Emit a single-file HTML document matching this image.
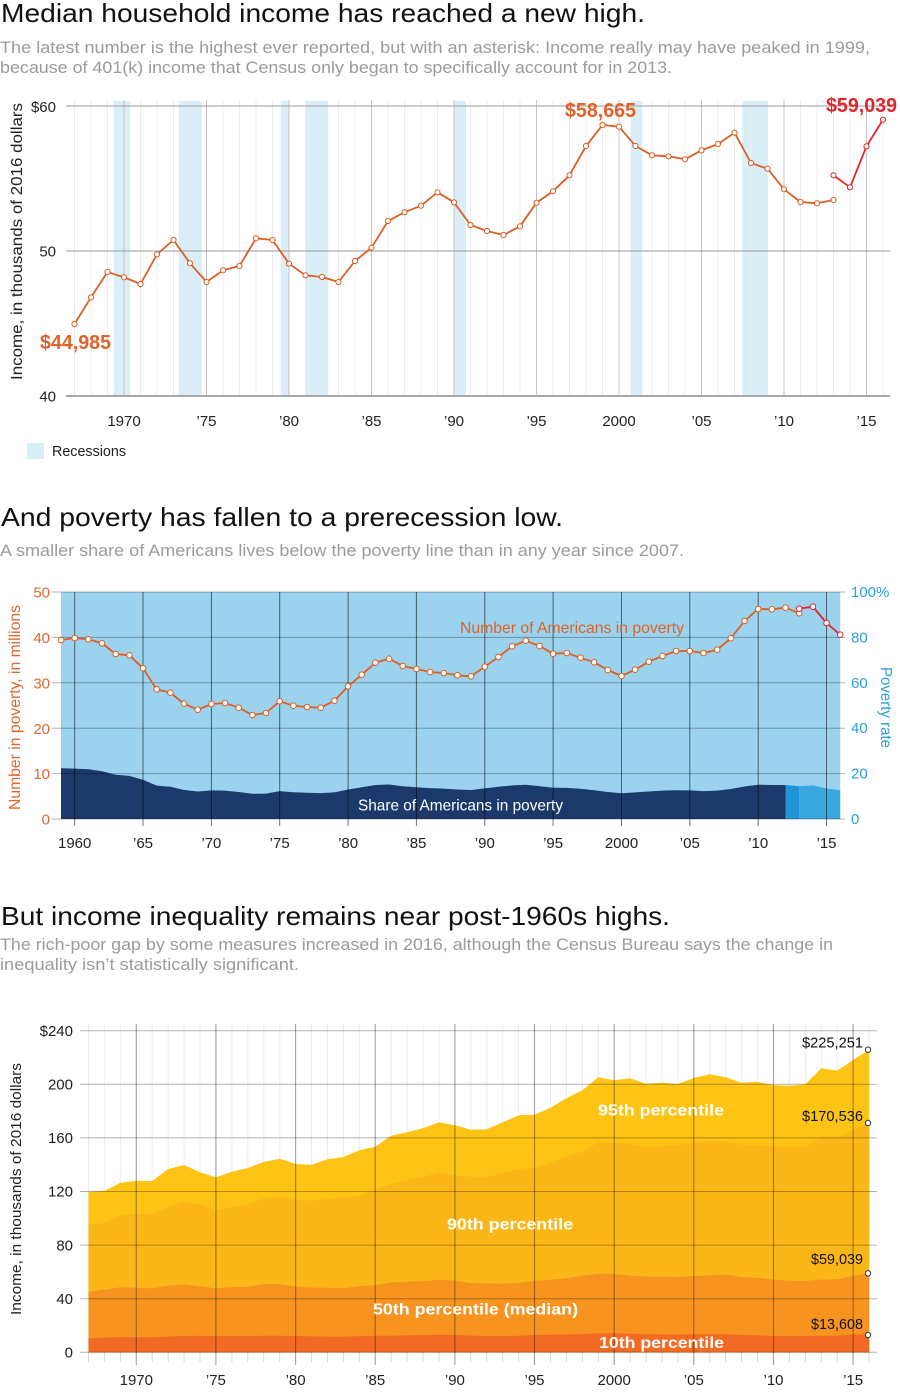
<!DOCTYPE html>
<html><head><meta charset="utf-8"><style>html,body{margin:0;padding:0;background:#fff;}svg{display:block;}</style></head><body>
<svg width="900" height="1395" viewBox="0 0 900 1395" xmlns="http://www.w3.org/2000/svg" font-family="'Liberation Sans', sans-serif">
<rect width="900" height="1395" fill="#fff"/>

<!-- ============ CHART 1 ============ -->
<text x="1" y="22" font-size="26" fill="#111" textLength="644" lengthAdjust="spacingAndGlyphs">Median household income has reached a new high.</text>
<text x="0" y="53" font-size="16.5" fill="#9b9b9b" textLength="870" lengthAdjust="spacingAndGlyphs">The latest number is the highest ever reported, but with an asterisk: Income really may have peaked in 1999,</text>
<text x="0" y="73" font-size="16.5" fill="#9b9b9b" textLength="672" lengthAdjust="spacingAndGlyphs">because of 401(k) income that Census only began to specifically account for in 2013.</text>

<!-- recession bands -->
<g fill="#daeef8">
<rect x="113.7" y="101" width="16.3" height="295"/>
<rect x="178.7" y="101" width="23" height="295"/>
<rect x="280.7" y="101" width="8.6" height="295"/>
<rect x="305.3" y="101" width="23" height="295"/>
<rect x="454.5" y="101" width="11.5" height="295"/>
<rect x="630.7" y="101" width="11.6" height="295"/>
<rect x="742.3" y="101" width="25.4" height="295"/>
</g>
<!-- minor grid -->
<path stroke="#ececec" stroke-width="1" fill="none" d="M74.5 100V396M91 100V396M107.5 100V396M140.5 100V396M157 100V396M173.5 100V396M190 100V396M223 100V396M239.5 100V396M256 100V396M272.5 100V396M305.5 100V396M322 100V396M338.5 100V396M355 100V396M388 100V396M404.5 100V396M421 100V396M437.5 100V396M470.5 100V396M487 100V396M503.5 100V396M520 100V396M553 100V396M569.5 100V396M586 100V396M602.5 100V396M635.5 100V396M652 100V396M668.5 100V396M685 100V396M718 100V396M734.5 100V396M751 100V396M767.5 100V396M800.5 100V396M817 100V396M833.5 100V396M850 100V396M883 100V396"/>
<!-- major grid -->
<path stroke="#c4c4c4" stroke-width="1" fill="none" d="M124 100V396M206.5 100V396M289 100V396M371.5 100V396M454 100V396M536.5 100V396M619 100V396M701.5 100V396M784 100V396M866.5 100V396"/>
<path stroke="#9a9a9a" stroke-width="1" fill="none" d="M66 106H890M66 251H890"/>
<path stroke="#a8a8a8" stroke-width="2" fill="none" d="M66 396H890"/>

<g font-size="15" fill="#222" text-anchor="end">
<text x="56" y="112">$60</text>
<text x="56" y="256.5">50</text>
<text x="56" y="401.5">40</text>
</g>
<g font-size="15" fill="#222" text-anchor="middle">
<text x="124" y="426">1970</text>
<text x="206.5" y="426">’75</text>
<text x="289" y="426">’80</text>
<text x="371.5" y="426">’85</text>
<text x="454" y="426">’90</text>
<text x="536.5" y="426">’95</text>
<text x="619" y="426">2000</text>
<text x="701.5" y="426">’05</text>
<text x="784" y="426">’10</text>
<text x="866.5" y="426">’15</text>
</g>
<text transform="translate(22,380) rotate(-90)" font-size="15.5" fill="#222" textLength="277" lengthAdjust="spacingAndGlyphs">Income, in thousands of 2016 dollars</text>

<polyline fill="none" stroke="#dc5f26" stroke-width="1.8" stroke-linejoin="round" points="74.5,324 91,297.3 107.5,272 124,277.3 140.5,284 157,254.3 173.5,240 190,263.3 206.5,282 223,270.3 239.5,266 256,238.3 272.5,240 289,263.7 305.5,275.3 322,277 338.5,282 355,261 371.5,247.7 388,221 404.5,212.3 421,205.7 437.5,192.3 454,202.3 470.5,225 487,231 503.5,235 520,226.3 536.5,202.7 553,191.3 569.5,175.3 586,146 602.5,125 619,126.7 635.5,146 652,155.3 668.5,156.3 685,159.3 701.5,150.3 718,144 734.5,132.7 751,163 767.5,168.7 784,189.3 800.5,202 817,203.3 833.5,200"/>
<polyline fill="none" stroke="#e3242b" stroke-width="1.8" stroke-linejoin="round" points="833.5,175.3 850,187.3 866.5,146.3 883,119.7"/>
<g fill="#fff" stroke="#dc5f26" stroke-width="1">
<circle cx="74.5" cy="324" r="2.6"/><circle cx="91" cy="297.3" r="2.6"/><circle cx="107.5" cy="272" r="2.6"/><circle cx="124" cy="277.3" r="2.6"/><circle cx="140.5" cy="284" r="2.6"/><circle cx="157" cy="254.3" r="2.6"/><circle cx="173.5" cy="240" r="2.6"/><circle cx="190" cy="263.3" r="2.6"/><circle cx="206.5" cy="282" r="2.6"/><circle cx="223" cy="270.3" r="2.6"/><circle cx="239.5" cy="266" r="2.6"/><circle cx="256" cy="238.3" r="2.6"/><circle cx="272.5" cy="240" r="2.6"/><circle cx="289" cy="263.7" r="2.6"/><circle cx="305.5" cy="275.3" r="2.6"/><circle cx="322" cy="277" r="2.6"/><circle cx="338.5" cy="282" r="2.6"/><circle cx="355" cy="261" r="2.6"/><circle cx="371.5" cy="247.7" r="2.6"/><circle cx="388" cy="221" r="2.6"/><circle cx="404.5" cy="212.3" r="2.6"/><circle cx="421" cy="205.7" r="2.6"/><circle cx="437.5" cy="192.3" r="2.6"/><circle cx="454" cy="202.3" r="2.6"/><circle cx="470.5" cy="225" r="2.6"/><circle cx="487" cy="231" r="2.6"/><circle cx="503.5" cy="235" r="2.6"/><circle cx="520" cy="226.3" r="2.6"/><circle cx="536.5" cy="202.7" r="2.6"/><circle cx="553" cy="191.3" r="2.6"/><circle cx="569.5" cy="175.3" r="2.6"/><circle cx="586" cy="146" r="2.6"/><circle cx="602.5" cy="125" r="2.6"/><circle cx="619" cy="126.7" r="2.6"/><circle cx="635.5" cy="146" r="2.6"/><circle cx="652" cy="155.3" r="2.6"/><circle cx="668.5" cy="156.3" r="2.6"/><circle cx="685" cy="159.3" r="2.6"/><circle cx="701.5" cy="150.3" r="2.6"/><circle cx="718" cy="144" r="2.6"/><circle cx="734.5" cy="132.7" r="2.6"/><circle cx="751" cy="163" r="2.6"/><circle cx="767.5" cy="168.7" r="2.6"/><circle cx="784" cy="189.3" r="2.6"/><circle cx="800.5" cy="202" r="2.6"/><circle cx="817" cy="203.3" r="2.6"/><circle cx="833.5" cy="200" r="2.6"/>
</g>
<g fill="#fff" stroke="#e3242b" stroke-width="1">
<circle cx="833.5" cy="175.3" r="2.6"/><circle cx="850" cy="187.3" r="2.6"/><circle cx="866.5" cy="146.3" r="2.6"/><circle cx="883" cy="119.7" r="2.6"/>
</g>
<text x="40" y="349" font-size="20" font-weight="bold" fill="#e0622a" textLength="71" lengthAdjust="spacingAndGlyphs">$44,985</text>
<text x="565" y="117" font-size="20" font-weight="bold" fill="#e0622a" textLength="71" lengthAdjust="spacingAndGlyphs">$58,665</text>
<text x="826" y="112" font-size="20" font-weight="bold" fill="#e3242b" textLength="71" lengthAdjust="spacingAndGlyphs">$59,039</text>

<rect x="27" y="443" width="17" height="16" fill="#daeef8"/>
<text x="52" y="456" font-size="15" fill="#222" textLength="74" lengthAdjust="spacingAndGlyphs">Recessions</text>

<!-- ============ CHART 2 ============ -->
<text x="1" y="526" font-size="26" fill="#111" textLength="562" lengthAdjust="spacingAndGlyphs">And poverty has fallen to a prerecession low.</text>
<text x="0" y="556" font-size="16.5" fill="#9b9b9b" textLength="684" lengthAdjust="spacingAndGlyphs">A smaller share of Americans lives below the poverty line than in any year since 2007.</text>

<rect x="61" y="592" width="779.2" height="227" fill="#9bd3ee"/>
<polygon fill="#1b3a6b" points="61,768.2 74.7,768.6 88.3,769.3 102,771.3 115.7,774.7 129.4,775.9 143,779.7 156.7,785.6 170.4,786.8 184,790 197.7,791.5 211.4,790.4 225,790.6 238.7,792 252.4,793.8 266,793.6 279.7,791.1 293.4,792.2 307.1,792.7 320.7,793.1 334.4,792.4 348.1,789.5 361.7,787.2 375.4,785 389.1,784.5 402.8,786.3 416.4,787.2 430.1,788.1 443.8,788.6 457.4,789.5 471.1,790 484.8,788.4 498.4,786.8 512.1,785.4 525.8,784.7 539.5,786.1 553.1,787.7 566.8,787.9 580.5,788.8 594.1,790.2 607.8,792 621.5,793.3 635.1,792.4 648.8,791.5 662.5,790.6 676.2,790.2 689.8,790.4 703.5,791.1 717.2,790.6 730.8,789 744.5,786.5 758.2,784.7 771.8,784.95 785.5,784.95 785.5,819 61,819"/>
<polygon fill="#2196d6" points="785.5,784.95 799.2,786.1 799.2,819 785.5,819"/>
<polygon fill="#3aa7df" points="799.2,786.1 812.9,785.4 826.5,788.4 840.2,790.2 840.2,819 799.2,819"/>
<path stroke="#000" stroke-opacity="0.3" stroke-width="1" fill="none" d="M52 592H845M52 637.4H845M52 682.8H845M52 728.2H845M52 773.6H845M52 819H845"/>
<path stroke="#000" stroke-opacity="0.55" stroke-width="1" fill="none" d="M74.7 592V826M143 592V826M211.4 592V826M279.7 592V826M348.1 592V826M416.4 592V826M484.8 592V826M553.1 592V826M621.5 592V826M689.8 592V826M758.2 592V826M826.5 592V826"/>

<g font-size="15" fill="#e2672e" text-anchor="end">
<text x="50" y="597.5">50</text><text x="50" y="643">40</text><text x="50" y="688.4">30</text><text x="50" y="733.8">20</text><text x="50" y="779.1">10</text><text x="50" y="824.5">0</text>
</g>
<g font-size="15" fill="#2aa0dc">
<text x="851" y="597">100%</text><text x="851" y="642.4">80</text><text x="851" y="687.8">60</text><text x="851" y="733.2">40</text><text x="851" y="778.6">20</text><text x="851" y="824">0</text>
</g>
<text transform="translate(20,810) rotate(-90)" font-size="15.5" fill="#e2672e" textLength="205" lengthAdjust="spacingAndGlyphs">Number in poverty, in millions</text>
<text transform="translate(881,667) rotate(90)" font-size="15.5" fill="#2aa0dc" textLength="81" lengthAdjust="spacingAndGlyphs">Poverty rate</text>
<g font-size="15" fill="#222" text-anchor="middle">
<text x="74.7" y="848">1960</text><text x="143" y="848">’65</text><text x="211.4" y="848">’70</text><text x="279.7" y="848">’75</text><text x="348.1" y="848">’80</text><text x="416.4" y="848">’85</text><text x="484.8" y="848">’90</text><text x="553.1" y="848">’95</text><text x="621.5" y="848">2000</text><text x="689.8" y="848">’05</text><text x="758.2" y="848">’10</text><text x="826.5" y="848">’15</text>
</g>

<polyline fill="none" stroke="#dc5f26" stroke-width="1.8" stroke-linejoin="round" points="61,640 74.7,638 88.3,639.3 102,643.3 115.7,654 129.4,655.3 143,668.3 156.7,689.3 170.4,692.7 184,703.7 197.7,709.7 211.4,704 225,703 238.7,707.7 252.4,715 266,713 279.7,701.3 293.4,705.7 307.1,707 320.7,707.7 334.4,700.7 348.1,686.3 361.7,674.7 375.4,662.7 389.1,658.7 402.8,666 416.4,669 430.1,672 443.8,673 457.4,675.3 471.1,676.3 484.8,666.7 498.4,657 512.1,646.3 525.8,640.7 539.5,646 553.1,653.7 566.8,653 580.5,657.7 594.1,662.3 607.8,670 621.5,676 635.1,669.7 648.8,661.7 662.5,656 676.2,651 689.8,651 703.5,653 717.2,649.7 730.8,638.3 744.5,621 758.2,609 771.8,609.3 785.5,607.7 799.2,613.3"/>
<polyline fill="none" stroke="#e3242b" stroke-width="1.8" stroke-linejoin="round" points="799.2,608.7 812.9,606.7 826.5,623 840.2,634.7"/>
<g fill="#fff" stroke="#dc5f26" stroke-width="1">
<circle cx="61" cy="640" r="2.8"/><circle cx="74.7" cy="638" r="2.8"/><circle cx="88.3" cy="639.3" r="2.8"/><circle cx="102" cy="643.3" r="2.8"/><circle cx="115.7" cy="654" r="2.8"/><circle cx="129.4" cy="655.3" r="2.8"/><circle cx="143" cy="668.3" r="2.8"/><circle cx="156.7" cy="689.3" r="2.8"/><circle cx="170.4" cy="692.7" r="2.8"/><circle cx="184" cy="703.7" r="2.8"/><circle cx="197.7" cy="709.7" r="2.8"/><circle cx="211.4" cy="704" r="2.8"/><circle cx="225" cy="703" r="2.8"/><circle cx="238.7" cy="707.7" r="2.8"/><circle cx="252.4" cy="715" r="2.8"/><circle cx="266" cy="713" r="2.8"/><circle cx="279.7" cy="701.3" r="2.8"/><circle cx="293.4" cy="705.7" r="2.8"/><circle cx="307.1" cy="707" r="2.8"/><circle cx="320.7" cy="707.7" r="2.8"/><circle cx="334.4" cy="700.7" r="2.8"/><circle cx="348.1" cy="686.3" r="2.8"/><circle cx="361.7" cy="674.7" r="2.8"/><circle cx="375.4" cy="662.7" r="2.8"/><circle cx="389.1" cy="658.7" r="2.8"/><circle cx="402.8" cy="666" r="2.8"/><circle cx="416.4" cy="669" r="2.8"/><circle cx="430.1" cy="672" r="2.8"/><circle cx="443.8" cy="673" r="2.8"/><circle cx="457.4" cy="675.3" r="2.8"/><circle cx="471.1" cy="676.3" r="2.8"/><circle cx="484.8" cy="666.7" r="2.8"/><circle cx="498.4" cy="657" r="2.8"/><circle cx="512.1" cy="646.3" r="2.8"/><circle cx="525.8" cy="640.7" r="2.8"/><circle cx="539.5" cy="646" r="2.8"/><circle cx="553.1" cy="653.7" r="2.8"/><circle cx="566.8" cy="653" r="2.8"/><circle cx="580.5" cy="657.7" r="2.8"/><circle cx="594.1" cy="662.3" r="2.8"/><circle cx="607.8" cy="670" r="2.8"/><circle cx="621.5" cy="676" r="2.8"/><circle cx="635.1" cy="669.7" r="2.8"/><circle cx="648.8" cy="661.7" r="2.8"/><circle cx="662.5" cy="656" r="2.8"/><circle cx="676.2" cy="651" r="2.8"/><circle cx="689.8" cy="651" r="2.8"/><circle cx="703.5" cy="653" r="2.8"/><circle cx="717.2" cy="649.7" r="2.8"/><circle cx="730.8" cy="638.3" r="2.8"/><circle cx="744.5" cy="621" r="2.8"/><circle cx="758.2" cy="609" r="2.8"/><circle cx="771.8" cy="609.3" r="2.8"/><circle cx="785.5" cy="607.7" r="2.8"/><circle cx="799.2" cy="613.3" r="2.8"/>
</g>
<g fill="#fff" stroke="#e3242b" stroke-width="1">
<circle cx="799.2" cy="608.7" r="2.8"/><circle cx="812.9" cy="606.7" r="2.8"/><circle cx="826.5" cy="623" r="2.8"/><circle cx="840.2" cy="634.7" r="2.8"/>
</g>
<text x="460" y="633" font-size="16" fill="#e0622a" textLength="224" lengthAdjust="spacingAndGlyphs">Number of Americans in poverty</text>
<text x="358" y="810.5" font-size="16" fill="#fff" textLength="205" lengthAdjust="spacingAndGlyphs">Share of Americans in poverty</text>

<!-- ============ CHART 3 ============ -->
<text x="1" y="925" font-size="26" fill="#111" textLength="669" lengthAdjust="spacingAndGlyphs">But income inequality remains near post-1960s highs.</text>
<text x="0" y="950" font-size="16.5" fill="#9b9b9b" textLength="833" lengthAdjust="spacingAndGlyphs">The rich-poor gap by some measures increased in 2016, although the Census Bureau says the change in</text>
<text x="0" y="970" font-size="16.5" fill="#9b9b9b" textLength="299" lengthAdjust="spacingAndGlyphs">inequality isn’t statistically significant.</text>

<!-- minor grid in white region -->
<path stroke="#ececec" stroke-width="1" fill="none" d="M88.5 1024V1352M104.4 1024V1352M120.4 1024V1352M152.2 1024V1352M168.2 1024V1352M184.1 1024V1352M200 1024V1352M231.9 1024V1352M247.8 1024V1352M263.7 1024V1352M279.7 1024V1352M311.5 1024V1352M327.5 1024V1352M343.4 1024V1352M359.3 1024V1352M391.2 1024V1352M407.1 1024V1352M423 1024V1352M439 1024V1352M470.8 1024V1352M486.8 1024V1352M502.7 1024V1352M518.6 1024V1352M550.5 1024V1352M566.4 1024V1352M582.3 1024V1352M598.3 1024V1352M630.1 1024V1352M646.1 1024V1352M662 1024V1352M677.9 1024V1352M709.8 1024V1352M725.7 1024V1352M741.6 1024V1352M757.6 1024V1352M789.4 1024V1352M805.4 1024V1352M821.3 1024V1352M837.2 1024V1352M869.1 1024V1352"/>
<path stroke="#d8d8d8" stroke-width="1" fill="none" d="M88.5 1352V1362M104.4 1352V1362M120.4 1352V1362M152.2 1352V1362M168.2 1352V1362M184.1 1352V1362M200 1352V1362M231.9 1352V1362M247.8 1352V1362M263.7 1352V1362M279.7 1352V1362M311.5 1352V1362M327.5 1352V1362M343.4 1352V1362M359.3 1352V1362M391.2 1352V1362M407.1 1352V1362M423 1352V1362M439 1352V1362M470.8 1352V1362M486.8 1352V1362M502.7 1352V1362M518.6 1352V1362M550.5 1352V1362M566.4 1352V1362M582.3 1352V1362M598.3 1352V1362M630.1 1352V1362M646.1 1352V1362M662 1352V1362M677.9 1352V1362M709.8 1352V1362M725.7 1352V1362M741.6 1352V1362M757.6 1352V1362M789.4 1352V1362M805.4 1352V1362M821.3 1352V1362M837.2 1352V1362M869.1 1352V1362"/>

<polygon fill="#fdc416" points="88.5,1191.7 104.4,1191 120.4,1182.7 136.3,1180.7 152.2,1181 168.2,1169 184.1,1165 200,1172.3 215.9,1177.3 231.9,1171.7 247.8,1168 263.7,1162 279.7,1158.7 295.6,1164 311.5,1164.7 327.5,1159.3 343.4,1157 359.3,1150.3 375.2,1146.7 391.2,1135.7 407.1,1132.3 423,1128.3 439,1122.3 454.9,1125.3 470.8,1129.7 486.8,1129.3 502.7,1122.3 518.6,1115.3 534.5,1114.7 550.5,1107.7 566.4,1098.3 582.3,1090.3 598.3,1077.3 614.2,1080.3 630.1,1078.3 646.1,1083.7 662,1082.7 677.9,1084 693.8,1078 709.8,1074.3 725.7,1077.3 741.6,1082.7 757.6,1082 773.5,1085 789.4,1085.7 805.4,1084.3 821.3,1068.3 837.2,1070.7 853.1,1060 869.1,1049.7 869.1,1352.3 88.5,1352.3"/>
<polygon fill="#fbb718" points="88.5,1225 104.4,1222.7 120.4,1215 136.3,1214 152.2,1214.3 168.2,1206.7 184.1,1201.5 200,1204.3 215.9,1210 231.9,1206.7 247.8,1204.3 263.7,1198.3 279.7,1196.7 295.6,1200 311.5,1200.7 327.5,1199 343.4,1197.3 359.3,1195.7 375.2,1189 391.2,1184.3 407.1,1180 423,1177.3 439,1171.7 454.9,1175.3 470.8,1176.7 486.8,1177 502.7,1173 518.6,1169 534.5,1168 550.5,1162.7 566.4,1156.3 582.3,1151.7 598.3,1142.3 614.2,1142.3 630.1,1144.3 646.1,1147.7 662,1145.7 677.9,1145 693.8,1143.3 709.8,1140 725.7,1141.7 741.6,1145 757.6,1145 773.5,1146.7 789.4,1147 805.4,1147 821.3,1137 837.2,1137.7 853.1,1130 869.1,1123 869.1,1352.3 88.5,1352.3"/>
<polygon fill="#f7941f" points="88.5,1292 104.4,1289.6 120.4,1287.2 136.3,1287.7 152.2,1288.4 168.2,1285.6 184.1,1284.3 200,1286.4 215.9,1288.2 231.9,1287.1 247.8,1286.7 263.7,1284.1 279.7,1284.3 295.6,1286.5 311.5,1287.6 327.5,1287.7 343.4,1288.2 359.3,1286.2 375.2,1285 391.2,1282.5 407.1,1281.7 423,1281.1 439,1279.9 454.9,1280.8 470.8,1282.9 486.8,1283.5 502.7,1283.8 518.6,1283 534.5,1280.8 550.5,1279.8 566.4,1278.3 582.3,1275.6 598.3,1273.7 614.2,1273.8 630.1,1275.6 646.1,1276.5 662,1276.6 677.9,1276.8 693.8,1276 709.8,1275.4 725.7,1274.4 741.6,1277.2 757.6,1277.7 773.5,1279.6 789.4,1280.8 805.4,1280.9 821.3,1279.5 837.2,1279.4 853.1,1275.6 869.1,1273.2 869.1,1352.3 88.5,1352.3"/>
<polygon fill="#f26a24" points="88.5,1338.4 104.4,1337.6 120.4,1337 136.3,1337.2 152.2,1337.2 168.2,1336.5 184.1,1336 200,1335.8 215.9,1336.2 231.9,1336 247.8,1336.1 263.7,1335.7 279.7,1335.7 295.6,1336 311.5,1336.4 327.5,1336.6 343.4,1336.6 359.3,1336.2 375.2,1335.8 391.2,1335.7 407.1,1335.4 423,1335.1 439,1334.7 454.9,1335 470.8,1335.6 486.8,1336 502.7,1336.1 518.6,1335.7 534.5,1335 550.5,1334.7 566.4,1334.5 582.3,1334.1 598.3,1333.3 614.2,1333.1 630.1,1333.7 646.1,1334.2 662,1334.5 677.9,1334.6 693.8,1334.3 709.8,1334.1 725.7,1334.3 741.6,1335 757.6,1335.3 773.5,1336 789.4,1336.1 805.4,1336 821.3,1335.7 837.2,1335.7 853.1,1334.5 869.1,1334.1 869.1,1352.3 88.5,1352.3"/>

<path stroke="#000" stroke-opacity="0.3" stroke-width="1" fill="none" d="M80 1030.7H877M80 1084.3H877M80 1137.9H877M80 1191.5H877M80 1245.1H877M80 1298.7H877M80 1352.3H877"/>
<path stroke="#000" stroke-opacity="0.35" stroke-width="1.2" fill="none" d="M136.3 1024V1365M215.9 1024V1365M295.6 1024V1365M375.2 1024V1365M454.9 1024V1365M534.5 1024V1365M614.2 1024V1365M693.8 1024V1365M773.5 1024V1365M853.1 1024V1365"/>

<g font-size="15" fill="#222" text-anchor="end">
<text x="73" y="1036">$240</text><text x="73" y="1089.5">200</text><text x="73" y="1143">160</text><text x="73" y="1196.7">120</text><text x="73" y="1250.3">80</text><text x="73" y="1304">40</text><text x="73" y="1357.5">0</text>
</g>
<g font-size="15" fill="#222" text-anchor="middle">
<text x="136.3" y="1385">1970</text><text x="215.9" y="1385">’75</text><text x="295.6" y="1385">’80</text><text x="375.2" y="1385">’85</text><text x="454.9" y="1385">’90</text><text x="534.5" y="1385">’95</text><text x="614.2" y="1385">2000</text><text x="693.8" y="1385">’05</text><text x="773.5" y="1385">’10</text><text x="853.1" y="1385">’15</text>
</g>
<text transform="translate(21,1315) rotate(-90)" font-size="15" fill="#222" textLength="252" lengthAdjust="spacingAndGlyphs">Income, in thousands of 2016 dollars</text>

<g font-size="16" font-weight="bold" fill="#fff">
<text x="598" y="1115.5" textLength="126" lengthAdjust="spacingAndGlyphs">95th percentile</text>
<text x="447" y="1229.5" textLength="126" lengthAdjust="spacingAndGlyphs">90th percentile</text>
<text x="373" y="1314.5" textLength="205" lengthAdjust="spacingAndGlyphs">50th percentile (median)</text>
<text x="599" y="1348" textLength="125" lengthAdjust="spacingAndGlyphs">10th percentile</text>
</g>
<g font-size="15" fill="#111">
<text x="802" y="1047.5" textLength="61" lengthAdjust="spacingAndGlyphs">$225,251</text>
<text x="802" y="1121" textLength="61" lengthAdjust="spacingAndGlyphs">$170,536</text>
<text x="811" y="1264" textLength="52" lengthAdjust="spacingAndGlyphs">$59,039</text>
<text x="811" y="1329" textLength="52" lengthAdjust="spacingAndGlyphs">$13,608</text>
</g>
<g fill="#fff" stroke="#333" stroke-width="1">
<circle cx="868" cy="1049.7" r="2.7"/><circle cx="868" cy="1123" r="2.7"/><circle cx="868" cy="1273.3" r="2.7"/><circle cx="868" cy="1335" r="2.7"/>
</g>
</svg>
</body></html>
